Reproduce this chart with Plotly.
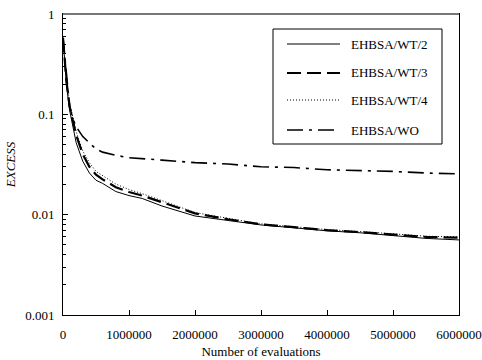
import plotly.graph_objects as go

evals = [0, 50000, 100000, 150000, 200000, 300000, 400000, 500000, 600000, 800000,
         1000000, 1200000, 1500000, 2000000, 2500000, 3000000, 3500000, 4000000,
         4500000, 5000000, 5500000, 6000000]

wt2 = [0.58, 0.2, 0.11, 0.075, 0.052, 0.034, 0.026, 0.022, 0.0205, 0.017,
       0.0155, 0.0145, 0.0122, 0.0097, 0.0088, 0.0079, 0.0074, 0.0069, 0.0066, 0.0062, 0.0058, 0.0056]
wt3 = [0.58, 0.22, 0.12, 0.085, 0.062, 0.04, 0.03, 0.025, 0.0225, 0.0188,
       0.0168, 0.0155, 0.0133, 0.0103, 0.009, 0.008, 0.0075, 0.007, 0.0067, 0.0063, 0.006, 0.0059]
wt4 = [0.58, 0.24, 0.13, 0.09, 0.067, 0.043, 0.033, 0.027, 0.0245, 0.0202,
       0.0178, 0.0162, 0.0138, 0.0105, 0.0092, 0.0081, 0.0076, 0.0071, 0.0068, 0.0064, 0.0061, 0.006]
wo = [0.58, 0.25, 0.12, 0.09, 0.075, 0.06, 0.052, 0.045, 0.042, 0.039,
      0.037, 0.036, 0.035, 0.033, 0.032, 0.030, 0.0295, 0.028, 0.0275, 0.027, 0.026, 0.0255]

names = ["EHBSA/WT/2", "EHBSA/WT/3", "EHBSA/WT/4", "EHBSA/WO"]
series = [wt2, wt3, wt4, wo]
styles = [dict(width=1, dash="solid"),
          dict(width=2.2, dash="14px,6px"),
          dict(width=1, dash="1px,2px"),
          dict(width=1.6, dash="16px,6px,3px,6px")]

ytickvals = [0.001, 0.01, 0.1, 1]
yticktext = ["0.001", "0.01", "0.1", "1"]
xtickvals = [0, 1000000, 2000000, 3000000, 4000000, 5000000, 6000000]
xticktext = ["0", "1000000", "2000000", "3000000", "4000000", "5000000", "6000000"]

W, H = 482, 360
ML, MR, MT, MB = 63, 23, 14, 45
PW, PH = W - ML - MR, H - MT - MB


def px2x(px):
    return (px - ML) / PW


def py2y(py):
    return (H - MB - py) / PH


fig = go.Figure()
for i, (n, s, st) in enumerate(zip(names, series, styles)):
    fig.add_trace(go.Scatter(x=evals, y=s, mode="lines", name=n, showlegend=False,
                             line=dict(color="black", **st)))

ff = "Liberation Serif, Times New Roman, serif"
font = dict(family=ff, size=13, color="black")

# manual legend (box, samples, labels)
fig.add_shape(type="rect", xref="paper", yref="paper",
              x0=px2x(273), x1=px2x(442), y0=py2y(144), y1=py2y(29),
              line=dict(color="black", width=1), fillcolor="white", layer="above")
rows = [44, 73, 100, 130]
for n, st, r in zip(names, styles, rows):
    fig.add_shape(type="line", xref="paper", yref="paper",
                  x0=px2x(287), x1=px2x(340), y0=py2y(r), y1=py2y(r),
                  line=dict(color="black", **st), layer="above")
    fig.add_annotation(xref="paper", yref="paper", x=px2x(349), y=py2y(r),
                       xanchor="left", yanchor="middle", text=n, showarrow=False,
                       font=dict(family=ff, size=13, color="black"))

fig.update_layout(
    width=W, height=H,
    margin=dict(l=ML, r=MR, t=MT, b=MB),
    paper_bgcolor="white", plot_bgcolor="white",
    font=font,
    showlegend=False,
    xaxis=dict(range=[0, 6000000], tickvals=xtickvals, ticktext=xticktext,
               ticks="inside", ticklen=5, tickcolor="black", showgrid=False, zeroline=False,
               showline=True, linecolor="black", linewidth=1, mirror=True,
               automargin=False, ticklabelstandoff=7,
               tickfont=dict(family=ff, size=13, color="black"),
               title=dict(text="Number of evaluations", standoff=6,
                          font=dict(family=ff, size=13, color="black"))),
    yaxis=dict(type="log", range=[-3, 0], tickvals=ytickvals, ticktext=yticktext,
               ticks="inside", ticklen=5, tickcolor="black", showgrid=False, zeroline=False,
               showline=True, linecolor="black", linewidth=1, mirror=True,
               automargin=False, ticklabelstandoff=5,
               tickfont=dict(family=ff, size=13, color="black"),
               minor=dict(ticks="inside", ticklen=3, tickcolor="black", dtick="D1", showgrid=False),
               title=dict(text="<i>EXCESS</i>", standoff=6,
                          font=dict(family=ff, size=13, color="black"))),
)
fig.add_shape(type="line", xref="paper", yref="paper", x0=0, x1=1, y0=1, y1=1,
              line=dict(color="#777777", width=2))
fig.write_html("out.html")
